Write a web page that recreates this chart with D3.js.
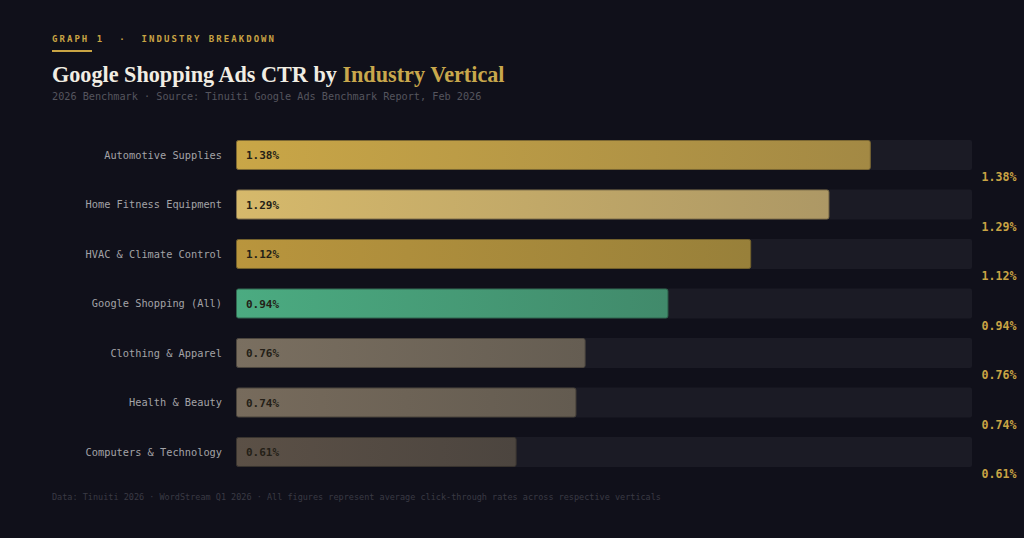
<!DOCTYPE html>
<html>
<head>
<meta charset="utf-8">
<script src="https://cdn.jsdelivr.net/npm/d3@7"></script>
<style>
  html, body { margin: 0; padding: 0; background: #10101a; }
  svg { display: block; }
</style>
</head>
<body>
<script>
// data
var categories = ["Automotive Supplies", "Home Fitness Equipment", "HVAC & Climate Control",
                  "Google Shopping (All)", "Clothing & Apparel", "Health & Beauty", "Computers & Technology"];
var ctrValues = [1.38, 1.29, 1.12, 0.94, 0.76, 0.74, 0.61];
var xMax = 1.6;

// bar gradients (left -> right)
var barColors = [
  ["#c9a647", "#a38944"],
  ["#d6b96b", "#ad9865"],
  ["#b9953d", "#98803a"],
  ["#4bab81", "#418a6b"],
  ["#7a6f60", "#655d52"],
  ["#776b5c", "#635b50"],
  ["#5b5046", "#4c453f"]
];

var W = 1024, H = 538;
var mono = "'DejaVu Sans Mono', 'Liberation Mono', monospace";
var gold = "#c9a444";

var svg = d3.select("body").append("svg")
    .attr("width", W)
    .attr("height", H);

svg.append("rect").attr("width", W).attr("height", H).attr("fill", "#10101a");

// header
svg.append("text")
    .attr("x", 52).attr("y", 42)
    .style("font-family", mono).style("font-size", "9px").style("font-weight", "bold")
    .style("letter-spacing", "2.05px").style("fill", gold)
    .attr("xml:space", "preserve")
    .text("GRAPH 1  ·  INDUSTRY BREAKDOWN");

svg.append("rect")
    .attr("x", 52).attr("y", 50).attr("width", 40).attr("height", 2)
    .attr("fill", gold);

var title = svg.append("text")
    .attr("x", 52).attr("y", 82)
    .style("font-family", "'Liberation Serif', 'DejaVu Serif', serif")
    .style("font-size", "22.2px").style("font-weight", "bold");
title.append("tspan").style("fill", "#f1ede3").text("Google Shopping Ads CTR by ");
title.append("tspan").style("fill", "#c9a84c").text("Industry Vertical");

svg.append("text")
    .attr("x", 52).attr("y", 100)
    .style("font-family", mono).style("font-size", "10.2px")
    .style("fill", "#55555e")
    .text("2026 Benchmark · Source: Tinuiti Google Ads Benchmark Report, Feb 2026");

// scales
var x = d3.scaleLinear().domain([0, xMax]).range([236, 972]);
var y = d3.scaleBand().domain(categories)
    .range([130.25, 476.75])
    .paddingInner(0.394).paddingOuter(0.197);

var data = categories.map(function(c, i) { return {cat: c, value: ctrValues[i], colors: barColors[i]}; });

// gradients
var defs = svg.append("defs");
data.forEach(function(d, i) {
  var g = defs.append("linearGradient").attr("id", "grad" + i)
      .attr("x1", "0%").attr("x2", "100%").attr("y1", "0%").attr("y2", "0%");
  g.append("stop").attr("offset", "0%").attr("stop-color", d.colors[0]);
  g.append("stop").attr("offset", "100%").attr("stop-color", d.colors[1]);
});

var rows = svg.selectAll(".row").data(data).enter().append("g").attr("class", "row");

// track
rows.append("rect")
    .attr("x", x(0)).attr("y", function(d) { return y(d.cat); })
    .attr("width", x(xMax) - x(0)).attr("height", y.bandwidth())
    .attr("rx", 2).attr("fill", "#1b1b25");

// bar
rows.append("rect")
    .attr("x", x(0) + 0.5).attr("y", function(d) { return y(d.cat) + 0.5; })
    .attr("width", function(d) { return x(d.value) - x(0) - 1; })
    .attr("height", y.bandwidth() - 1)
    .attr("rx", 2)
    .attr("fill", function(d, i) { return "url(#grad" + i + ")"; })
    .attr("stroke", function(d) { return d3.color(d.colors[1]).darker(0.8); })
    .attr("stroke-width", 1);

// category labels
rows.append("text")
    .attr("x", 222).attr("y", function(d) { return y(d.cat) + y.bandwidth() / 2 + 3.5; })
    .attr("text-anchor", "end")
    .style("font-family", mono).style("font-size", "10.3px")
    .style("fill", "#a3a3a7")
    .text(function(d) { return d.cat; });

// in-bar labels
rows.append("text")
    .attr("x", x(0) + 10).attr("y", function(d) { return y(d.cat) + y.bandwidth() / 2 + 4; })
    .style("font-family", mono).style("font-size", "11px").style("font-weight", "bold")
    .style("fill", "#241f17")
    .text(function(d) { return d.value.toFixed(2) + "%"; });

// right value labels
rows.append("text")
    .attr("x", 981.5).attr("y", function(d) { return y(d.cat) + y.bandwidth() + 11.5; })
    .style("font-family", mono).style("font-size", "11.6px").style("font-weight", "bold")
    .style("fill", gold)
    .text(function(d) { return d.value.toFixed(2) + "%"; });

// footer
svg.append("text")
    .attr("x", 52).attr("y", 500)
    .style("font-family", mono).style("font-size", "8.5px")
    .style("fill", "#3a3a44")
    .text("Data: Tinuiti 2026 · WordStream Q1 2026 · All figures represent average click-through rates across respective verticals");
</script>
</body>
</html>
